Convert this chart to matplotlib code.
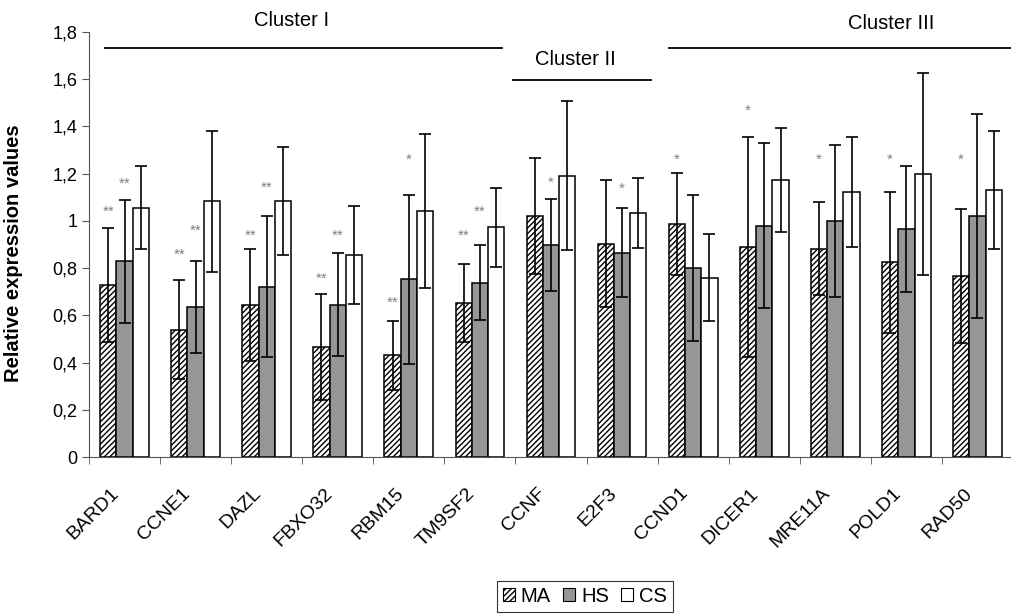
import matplotlib
matplotlib.use("Agg")
import matplotlib.pyplot as plt
import matplotlib.transforms as mtransforms
import numpy as np
from matplotlib.patches import Patch

plt.rcParams['font.family'] = ['Liberation Sans', 'DejaVu Sans']
plt.rcParams['hatch.linewidth'] = 1.0

genes = ["BARD1", "CCNE1", "DAZL", "FBXO32", "RBM15", "TM9SF2", "CCNF",
         "E2F3", "CCND1", "DICER1", "MRE11A", "POLD1", "RAD50"]
series = ["MA", "HS", "CS"]
ma_mean = [0.728, 0.540, 0.645, 0.467, 0.430, 0.652, 1.021, 0.904, 0.986, 0.890, 0.883, 0.824, 0.767]
ma_sd = [0.242, 0.208, 0.237, 0.224, 0.148, 0.167, 0.244, 0.270, 0.216, 0.466, 0.195, 0.300, 0.284]
hs_mean = [0.829, 0.636, 0.721, 0.645, 0.753, 0.739, 0.897, 0.865, 0.801, 0.980, 1.000, 0.966, 1.021]
hs_sd = [0.260, 0.196, 0.298, 0.217, 0.357, 0.158, 0.194, 0.189, 0.309, 0.350, 0.322, 0.266, 0.432]
cs_mean = [1.055, 1.083, 1.083, 0.856, 1.042, 0.973, 1.192, 1.034, 0.760, 1.172, 1.123, 1.199, 1.131]
cs_sd = [0.176, 0.299, 0.229, 0.208, 0.326, 0.168, 0.316, 0.148, 0.185, 0.220, 0.233, 0.427, 0.251]

# significance marks: (gene index, series index, label, height)
star_gene = [0, 0, 1, 1, 2, 2, 3, 3, 4, 4, 5, 5, 6, 7, 8, 9, 10, 11, 12]
star_series = [0, 1, 0, 1, 0, 1, 0, 1, 0, 1, 0, 1, 1, 1, 0, 0, 0, 0, 0]
star_text = ["**", "**", "**", "**", "**", "**", "**", "**", "**", "*", "**", "**",
             "*", "*", "*", "*", "*", "*", "*"]
star_y = [1.038, 1.158, 0.855, 0.958, 0.935, 1.14, 0.753, 0.935, 0.653, 1.26, 0.935, 1.038,
          1.16, 1.137, 1.26, 1.466, 1.26, 1.26, 1.26]

clusters = ["Cluster I", "Cluster II", "Cluster III"]
cluster_x0 = [-0.275, 5.46, 7.666]
cluster_x1 = [5.305, 7.41, 12.6]
cluster_line_y = [1.731, 1.595, 1.731]
cluster_text_x = [2.353, 6.345, 10.786]
cluster_text_y = [1.849, 1.684, 1.837]

yticks = [0, 0.2, 0.4, 0.6, 0.8, 1.0, 1.2, 1.4, 1.6, 1.8]
ytick_labels = ["0", "0,2", "0,4", "0,6", "0,8", "1", "1,2", "1,4", "1,6", "1,8"]

fig = plt.figure(figsize=(10.12, 6.16), dpi=100)
ax = fig.add_axes([89/1012, (616-457)/616, (1013-89)/1012, (457-32)/616])

x = np.arange(len(genes))
w = 0.229
means = [ma_mean, hs_mean, cs_mean]
sds = [ma_sd, hs_sd, cs_sd]
faces = ["white", "#969696", "white"]
hatches = ["//////", None, None]
for i in range(3):
    pos = x + (i - 1) * w
    ax.bar(pos, means[i], w, color=faces[i], edgecolor="black", linewidth=1.1,
           hatch=hatches[i], zorder=2)
    ax.errorbar(pos, means[i], yerr=sds[i], fmt="none", ecolor="black",
                elinewidth=1.2, capsize=4.3, capthick=1.2, zorder=3)

for g, s, t, yv in zip(star_gene, star_series, star_text, star_y):
    ax.text(x[g] + (s - 1) * w, yv, t, ha="center", va="center", fontsize=11,
            color="#808080", zorder=4)

for x0, x1, ly, tx, ty, name in zip(cluster_x0, cluster_x1, cluster_line_y,
                                     cluster_text_x, cluster_text_y, clusters):
    ax.plot([x0, x1], [ly, ly], color="black", linewidth=1.3, clip_on=False)
    ax.text(tx, ty, name, ha="center", va="center", fontsize=14.5, clip_on=False)

ax.set_xlim(-0.5, 12.485)
ax.set_ylim(0, 1.8)
ax.set_yticks(yticks)
ax.set_yticklabels(ytick_labels, fontsize=13)
ax.set_xticks(x)
ax.set_xticklabels(genes, rotation=45, ha="right", rotation_mode="anchor", fontsize=14)
ax.tick_params(axis="x", which="major", length=0, pad=20)
offset = mtransforms.ScaledTranslation(-14/100, 0, fig.dpi_scale_trans)
for lab in ax.get_xticklabels():
    lab.set_transform(lab.get_transform() + offset)
ax.set_xticks(np.arange(-0.5, 13, 1), minor=True)
ax.tick_params(axis="x", which="minor", length=5, direction="out", color="#555555")
ax.tick_params(axis="y", length=5, direction="out", color="#555555")
for sp in ["top", "right"]:
    ax.spines[sp].set_visible(False)
ax.spines["left"].set_color("#555555")
ax.spines["bottom"].set_color("#555555")
ax.set_ylabel("Relative expression values", fontsize=14.5, fontweight="bold")
ax.yaxis.set_label_coords(-0.0715, 0.48)

handles = [Patch(facecolor=faces[i], edgecolor="black", hatch=hatches[i], linewidth=0.8)
           for i in range(3)]
leg = fig.legend(handles, series, loc="center", bbox_to_anchor=(0.578, 0.032), ncol=3,
                 fontsize=14.5, frameon=True, fancybox=False, handlelength=0.6,
                 handleheight=0.6, handletextpad=0.3, columnspacing=0.6,
                 borderpad=0.3, borderaxespad=0)
leg.get_frame().set_edgecolor("black")
leg.get_frame().set_linewidth(0.8)

fig.savefig("out.png", dpi=100)
